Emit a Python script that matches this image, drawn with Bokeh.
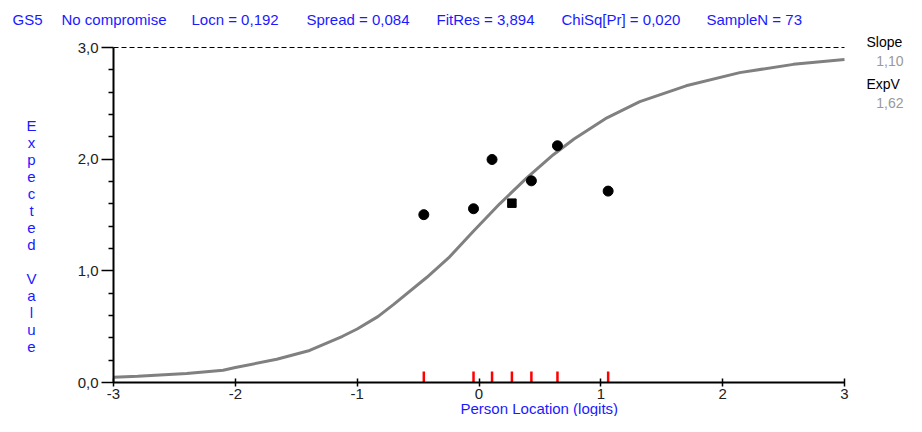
from bokeh.plotting import figure
from bokeh.models import Range1d, FixedTicker, Label
from bokeh.embed import file_html
from bokeh.resources import INLINE

# ---- data ----
header_texts = ["GS5", "No compromise", "Locn = 0,192", "Spread = 0,084",
                "FitRes = 3,894", "ChiSq[Pr] = 0,020", "SampleN = 73"]
class_loc = [-0.453, -0.045, 0.107, 0.270, 0.430, 0.644, 1.060]
class_obs = [1.503, 1.556, 1.997, 1.606, 1.806, 2.120, 1.714]
class_marker = ["circle", "circle", "circle", "square", "circle", "circle", "circle"]

curve_x = [-3.0, -2.8, -2.4, -2.1, -2.0, -1.66, -1.39, -1.12, -1.0, -0.83, -0.70,
           -0.43, -0.25, -0.05, 0.17, 0.39, 0.61, 0.78, 1.05, 1.32, 1.70, 2.14, 2.58, 3.0]
curve_y = [0.046, 0.057, 0.081, 0.11, 0.134, 0.208, 0.287, 0.414, 0.479, 0.59, 0.70,
           0.94, 1.115, 1.35, 1.60, 1.83, 2.04, 2.18, 2.37, 2.515, 2.657, 2.775, 2.849, 2.893]

x_ticks = [-3, -2, -1, 0, 1, 2, 3]
x_tick_labels = ["-3", "-2", "-1", "0", "1", "2", "3"]
y_ticks = [0, 1, 2, 3]
y_tick_labels = ["0,0", "1,0", "2,0", "3,0"]
y_minor = [0.2, 0.4, 0.6, 0.8, 1.2, 1.4, 1.6, 1.8, 2.2, 2.4, 2.6, 2.8]

side_titles = ["Slope", "ExpV"]
side_values = ["1,10", "1,62"]

x_label = "Person Location (logits)"
y_label = "Expected Value"

FONT = "Liberation Sans"
BLUE = "#1a1aff"

# ---- layout: canvas pixels of the plotting box ----
W, H = 906, 416
AL, AR, AT, AB = 113, 844, 47, 382        # axis box in canvas pixels
XMIN, XMAX = x_ticks[0], x_ticks[-1]
YMIN, YMAX = y_ticks[0], y_ticks[-1]
sx = (AR - AL) / (XMAX - XMIN)
sy = (AB - AT) / (YMAX - YMIN)


def px2x(px):
    return XMIN + (px - AL) / sx


def py2y(py):
    return YMIN + (AB - py) / sy


p = figure(width=W, height=H, output_backend="svg", toolbar_location=None,
           x_range=Range1d(px2x(0), px2x(W)), y_range=Range1d(py2y(H), py2y(0)),
           min_border=0, min_border_left=0, min_border_right=0,
           min_border_top=0, min_border_bottom=0)
p.outline_line_color = None
p.xgrid.visible = False
p.ygrid.visible = False
p.background_fill_color = "white"
p.border_fill_color = "white"

# axes (fixed at the box edges)
xa = p.xaxis[0]
xa.fixed_location = YMIN
xa.bounds = (XMIN, XMAX)
xa.ticker = FixedTicker(ticks=x_ticks)
xa.major_label_overrides = {t: l for t, l in zip(x_ticks, x_tick_labels)}
xa.axis_line_width = 2
xa.axis_line_color = "black"
xa.major_tick_in = 4
xa.major_tick_out = 4
xa.major_tick_line_width = 1.5
xa.minor_tick_line_color = None
xa.major_label_standoff = 2
xa.major_label_text_font = FONT
xa.major_label_text_font_size = "15px"
xa.major_label_text_color = "#222222"

ya = p.yaxis[0]
ya.fixed_location = XMIN
ya.bounds = (YMIN, YMAX)
ya.ticker = FixedTicker(ticks=y_ticks, minor_ticks=y_minor)
ya.major_label_overrides = {t: l for t, l in zip(y_ticks, y_tick_labels)}
ya.axis_line_width = 2
ya.axis_line_color = "black"
ya.major_tick_in = 0
ya.major_tick_out = 12
ya.minor_tick_in = 0
ya.minor_tick_out = 5
ya.major_tick_line_width = 1.5
ya.minor_tick_line_width = 1.5
ya.major_label_standoff = 3
ya.major_label_text_font = FONT
ya.major_label_text_font_size = "15px"
ya.major_label_text_color = "#222222"

# dashed maximum-score line
p.line([XMIN, XMAX], [YMAX, YMAX], line_color="black", line_width=1, line_dash="5 3")

# expected value curve
p.line(curve_x, curve_y, line_color="#808080", line_width=3)

# class interval observed means
for xx, yy, mk in zip(class_loc, class_obs, class_marker):
    p.scatter([xx], [yy], marker=mk, size=10 if mk == "circle" else 8.5,
              fill_color="black", line_color="black")

# red rug ticks on x axis
rug_h = 11 / sy
p.segment(x0=class_loc, y0=[YMIN] * len(class_loc), x1=class_loc,
          y1=[YMIN + rug_h] * len(class_loc), line_color="red", line_width=2.5)

# header
header_px = [12, 61, 191, 306, 436, 561, 706]
for txt, hx in zip(header_texts, header_px):
    p.add_layout(Label(x=px2x(hx), y=py2y(19), text=txt, text_font=FONT,
                       text_font_size="15px", text_color=BLUE,
                       text_align="left", text_baseline="middle"))

# x axis label
p.add_layout(Label(x=px2x(460), y=py2y(408), text=x_label, text_font=FONT,
                   text_font_size="15px", text_color=BLUE,
                   text_align="left", text_baseline="middle"))

# y axis label (stacked letters)
for i, ch in enumerate(y_label):
    if ch == " ":
        continue
    p.add_layout(Label(x=px2x(31), y=py2y(125 + i * 17.0), text=ch,
                       text_font=FONT, text_font_size="15px",
                       text_color=BLUE, text_align="center",
                       text_baseline="middle"))

# right side slope / expected value
side_py = [(41, 60), (83, 102)]
for (tpy, vpy), t, v in zip(side_py, side_titles, side_values):
    p.add_layout(Label(x=px2x(866), y=py2y(tpy), text=t, text_font=FONT,
                       text_font_size="14px", text_color="black",
                       text_align="left", text_baseline="middle"))
    p.add_layout(Label(x=px2x(903), y=py2y(vpy), text=v, text_font=FONT,
                       text_font_size="14px", text_color="#999999",
                       text_align="right", text_baseline="middle"))

open("out.html", "w").write(file_html(p, INLINE))
